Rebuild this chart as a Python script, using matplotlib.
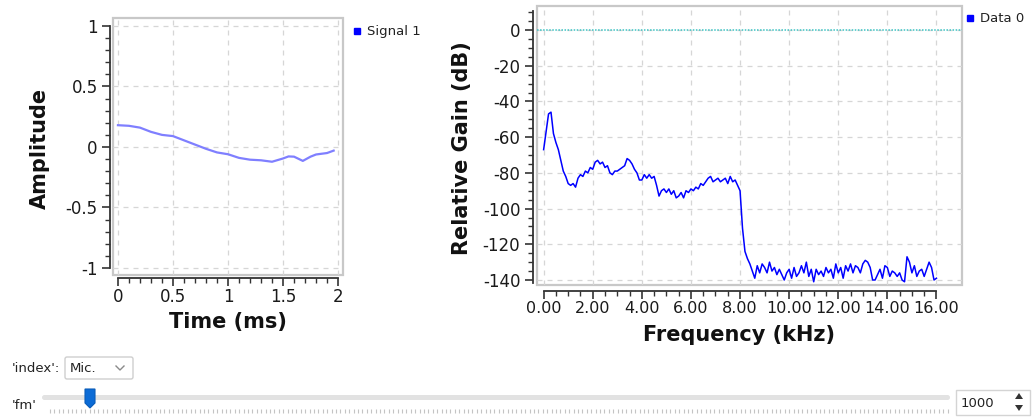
import numpy as np
import matplotlib
matplotlib.use("Agg")
import matplotlib.pyplot as plt
from matplotlib.patches import Rectangle, FancyBboxPatch, Polygon
from matplotlib.lines import Line2D
from matplotlib.ticker import FuncFormatter

plt.rcParams['font.family'] = ['DejaVu Sans']
plt.rcParams['axes.unicode_minus'] = False

# ---------------- data ----------------
time_ms = [0.0, 0.1, 0.2, 0.3, 0.4, 0.5, 0.6, 0.7, 0.8, 0.9, 1.0, 1.1, 1.2,
           1.3, 1.4, 1.5, 1.55, 1.6, 1.68, 1.75, 1.8, 1.9, 1.96]
amplitude = [0.18, 0.175, 0.16, 0.125, 0.1, 0.09, 0.055, 0.02, -0.015, -0.045,
             -0.06, -0.09, -0.105, -0.11, -0.122, -0.095, -0.078, -0.08, -0.115,
             -0.08, -0.062, -0.05, -0.03]

freq_khz = [round(0.1 * i, 1) for i in range(161)]
gain_db = [
    -67, -57, -47, -46, -58, -63, -67, -73, -79, -82,
    -86, -87, -86, -88, -83, -81, -82, -79, -80, -77,
    -78, -74, -73, -75, -74, -77, -76, -80, -81, -79,
    -79, -78, -77, -76, -72, -73, -75, -78, -80, -84,
    -84, -81, -83, -81, -83, -82, -87, -93, -90, -89,
    -91, -89, -92, -90, -94, -93, -91, -94, -90, -91,
    -89, -90, -88, -89, -86, -87, -85, -83, -82, -85,
    -84, -83, -85, -84, -83, -86, -82, -85, -84, -87,
    -90, -111, -124, -128, -131, -135, -139, -132, -136, -131,
    -133, -136, -130, -135, -133, -137, -134, -137, -140, -136,
    -134, -139, -133, -138, -136, -132, -136, -130, -138, -134,
    -141, -134, -137, -135, -138, -133, -136, -134, -139, -131,
    -136, -133, -139, -132, -135, -131, -136, -132, -133, -136,
    -131, -129, -130, -133, -140, -140, -137, -134, -139, -132,
    -133, -138, -135, -136, -138, -136, -140, -141, -127, -130,
    -136, -132, -138, -135, -134, -138, -134, -130, -133, -140,
    -139]

left_xticks = [0, 0.5, 1, 1.5, 2]
left_yticks = [-1, -0.5, 0, 0.5, 1]
right_xticks = [0, 2, 4, 6, 8, 10, 12, 14, 16]
right_yticks = [0, -20, -40, -60, -80, -100, -120, -140]

# ---------------- layout ----------------
W, H = 1032, 419
fig = plt.figure(figsize=(W / 100, H / 100), dpi=100)
fig.patch.set_facecolor('white')


def rect(x0, y0, x1, y1):
    return [x0 / W, 1 - y1 / H, (x1 - x0) / W, (y1 - y0) / H]


TICK_COLOR = '#1a1a1a'
SPINE_COLOR = '#333333'
GRID_COLOR = '#d6d6d6'
FRAME_COLOR = '#c8c8c8'


def style_axes(ax, left_out, bottom_out, ybounds, xbounds, xsize):
    for s in ['top', 'right']:
        ax.spines[s].set_visible(False)
    for s in ['left', 'bottom']:
        ax.spines[s].set_color(SPINE_COLOR)
        ax.spines[s].set_linewidth(1.3)
    ax.spines['left'].set_position(('outward', left_out))
    ax.spines['bottom'].set_position(('outward', bottom_out))
    ax.spines['left'].set_bounds(*ybounds)
    ax.spines['bottom'].set_bounds(*xbounds)
    ax.add_patch(Rectangle((0, 0), 1, 1, transform=ax.transAxes, fill=False,
                           ec=FRAME_COLOR, lw=1.6, clip_on=False, zorder=0.5))
    ax.tick_params(which='major', length=6, width=1.2, color=SPINE_COLOR,
                   direction='out', labelsize=12, labelcolor=TICK_COLOR)
    ax.tick_params(which='minor', length=3.5, width=1.0, color=SPINE_COLOR,
                   direction='out')
    ax.tick_params(axis='y', which='major', pad=3)
    ax.tick_params(axis='x', which='major', pad=1.5, labelsize=xsize)
    ax.grid(True, which='major', color=GRID_COLOR, lw=0.9,
            linestyle=(0, (4, 4)))
    ax.set_axisbelow(True)


fmt_g = FuncFormatter(lambda v, p: ('%g' % v))

# ---- left plot ----
ax1 = fig.add_axes(rect(113, 18, 343, 275))
ax1.plot(time_ms, amplitude, color='#7f7fff', lw=1.6)
ax1.set_xlim(-0.045, 2.045)
ax1.set_ylim(-1.058, 1.066)
ax1.set_xticks(left_xticks)
ax1.set_yticks(left_yticks)
ax1.set_xticks(np.arange(0, 2.001, 0.1), minor=True)
ax1.set_yticks(np.arange(-1, 1.001, 0.1), minor=True)
ax1.xaxis.set_major_formatter(fmt_g)
ax1.yaxis.set_major_formatter(fmt_g)
style_axes(ax1, 2, 2, (-1, 1), (0, 2), 12)

# ---- right plot ----
ax2 = fig.add_axes(rect(537, 6, 962, 285))
ax2.axhline(0, color='#3cc4c4', lw=1.1, linestyle=(0, (1, 1)))
ax2.plot(freq_khz, gain_db, color='#0000ff', lw=1.1)
ax2.set_xlim(-0.27, 17.04)
ax2.set_ylim(-142.8, 13.44)
ax2.set_xticks(right_xticks)
ax2.set_yticks(right_yticks)
ax2.set_xticks(np.arange(0, 16.001, 0.5), minor=True)
ax2.set_yticks(np.arange(-140, 10.001, 5), minor=True)
ax2.xaxis.set_major_formatter(FuncFormatter(lambda v, p: '%.2f' % v))
ax2.yaxis.set_major_formatter(fmt_g)
style_axes(ax2, 3, 4, (-141.5, 10.5), (0, 16), 11.5)

# ---------------- overlay (labels, legends, widgets) ----------------
ov = fig.add_axes([0, 0, 1, 1], zorder=-1)
ov.set_xlim(0, W)
ov.set_ylim(H, 0)
ov.axis('off')

lab = dict(fontsize=15, fontweight='bold', color='#111111',
           ha='center', va='center')
ov.text(40, 148, 'Amplitude', rotation=90, **lab)
ov.text(228, 322, 'Time (ms)', **lab)
ov.text(462, 148, 'Relative Gain (dB)', rotation=90, **lab)
ov.text(739, 335, 'Frequency (kHz)', **lab)

# legends
h1 = Line2D([], [], marker='s', linestyle='none', color='#0000ff', markersize=5)
fig.legend([h1], ['Signal 1'], loc='center left',
           bbox_to_anchor=(353 / W, 1 - 32 / H), frameon=False,
           handlelength=0.6, handletextpad=0.45, borderpad=0, borderaxespad=0,
           fontsize=9.5, labelcolor='#222222')
h2 = Line2D([], [], marker='s', linestyle='none', color='#0000ff', markersize=5)
fig.legend([h2], ['Data 0'], loc='center left',
           bbox_to_anchor=(966 / W, 1 - 19 / H), frameon=False,
           handlelength=0.6, handletextpad=0.45, borderpad=0, borderaxespad=0,
           fontsize=9.5, labelcolor='#222222')

# widgets
wtxt = dict(fontsize=9.5, color='#222222', va='center', ha='left')
ov.text(12, 368, "'index':", **wtxt)
ov.add_patch(FancyBboxPatch((65, 357), 68, 22,
                            boxstyle='round,pad=0,rounding_size=2',
                            fc='white', ec='#cfcfcf', lw=1))
ov.text(70, 368, 'Mic.', **wtxt)
ov.plot([116, 120, 124], [366, 370, 366], color='#8a8a8a', lw=1)

ov.text(12, 405, "'fm'", **wtxt)
ov.add_patch(FancyBboxPatch((42, 395), 908, 5,
                            boxstyle='round,pad=0,rounding_size=2.5',
                            fc='#e2e2e2', ec='none'))
ov.vlines(np.arange(50, 949, 4.4), 409, 413, color='#c4c4c4', lw=0.8)
ov.add_patch(Polygon([(85, 389), (95, 389), (95, 403), (90, 408), (85, 403)],
                     closed=True, fc='#0b6bd6', ec='#0a5cb8', lw=0.8))

ov.add_patch(Rectangle((956, 390), 74, 25, fc='white', ec='#d4d4d4', lw=1))
ov.text(961, 403, '1000', **wtxt)
ov.add_patch(Polygon([(1015, 399), (1023, 399), (1019, 393)], closed=True,
                     fc='#333333', ec='none'))
ov.add_patch(Polygon([(1015, 405), (1023, 405), (1019, 411)], closed=True,
                     fc='#333333', ec='none'))

fig.savefig('out.png', dpi=100, facecolor='white')
